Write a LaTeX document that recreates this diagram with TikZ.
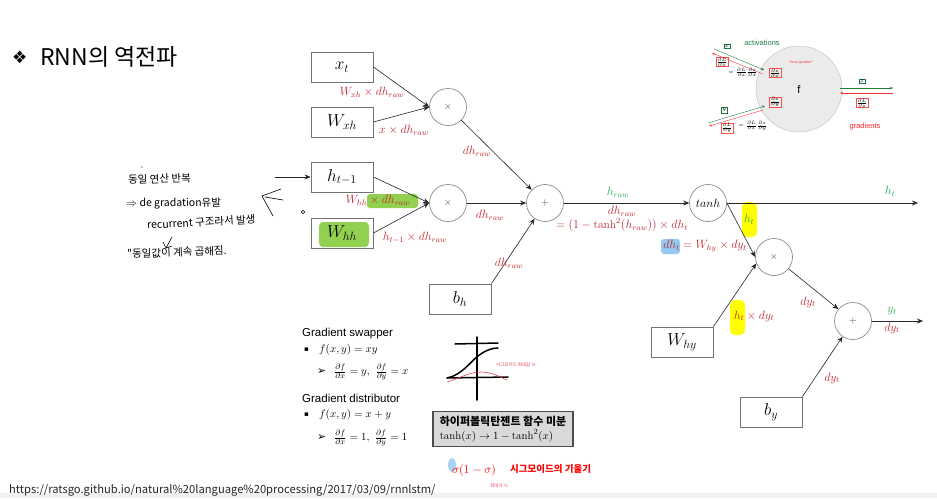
\documentclass[tikz,border=0pt]{standalone}
\usepackage{fontspec}
\usepackage{amsmath}
\usetikzlibrary{arrows.meta,calc}
\newfontfamily\kr{Noto Sans CJK KR}
\newfontfamily\dejavu{DejaVu Sans}
\newfontfamily\arial{Liberation Sans}
\definecolor{lred}{RGB}{192,40,50}
\definecolor{lgreen}{RGB}{40,170,90}
\definecolor{hlgreen}{RGB}{146,208,80}
\definecolor{hlyellow}{RGB}{255,255,0}
\definecolor{hlblue}{RGB}{150,200,240}
\definecolor{pinkred}{RGB}{235,60,80}
\begin{document}
\begin{tikzpicture}[x=1pt,y=-1pt,
 box/.style={draw=black!55, line width=0.9pt, minimum width=62pt, minimum height=30pt, inner sep=0pt, font=\fontsize{17}{20}\selectfont},
 op/.style={circle, draw=black!45, line width=0.7pt, minimum size=37pt, inner sep=0pt, font=\fontsize{10}{12}\selectfont, text=black!75},
 arr/.style={-{Stealth[length=6pt,width=5pt]}, line width=0.6pt, black!85},
 lbl/.style={text=lred, font=\fontsize{11.5}{13}\selectfont, inner sep=1pt},
 glbl/.style={text=lgreen, font=\fontsize{11.5}{13}\selectfont, inner sep=1pt},
 hand/.style={font=\kr\fontsize{10.5}{12}\selectfont, anchor=west, inner sep=0pt},
 pen/.style={line width=0.6pt, line cap=round, line join=round},
 sk/.style={line width=1.5pt, line cap=round},
 ga/.style={-{Stealth[length=3pt,width=2.5pt]}, lgreen!75!black, line width=0.4pt},
 ra/.style={-{Stealth[length=3pt,width=2.5pt]}, red!80, line width=0.4pt},
 fr/.style={draw=red!70, inner sep=0.6pt, line width=0.3pt, font=\fontsize{5}{6}\selectfont},
 gb/.style={draw=lgreen!70!black, inner sep=1pt, line width=0.3pt, font=\fontsize{6}{7}\selectfont},
 txt/.style={anchor=west, inner sep=0pt, font=\arial\fontsize{11.5}{13}\selectfont},
 mth/.style={anchor=west, inner sep=0pt, font=\fontsize{11}{13}\selectfont}
]
\useasboundingbox (0,0) rectangle (937,498);
\fill[white] (0,0) rectangle (937,498);
\fill[black!6] (0,493) rectangle (937,498);

% highlights
\fill[hlgreen, rounded corners=3pt] (367,194) rectangle (418,208);
\fill[hlgreen, rounded corners=4pt] (319,222) rectangle (369,247);
\fill[hlyellow, rounded corners=5pt] (742,202) rectangle (757,237);
\fill[hlyellow, rounded corners=5pt] (730,300) rectangle (745,335);
\fill[hlblue, rounded corners=3pt] (661,239) rectangle (680,254);
\fill[hlblue!80] (452,465) ellipse (4 and 7);

% title
\node[anchor=west, font=\dejavu\fontsize{17}{19}\selectfont, inner sep=0pt] (dia) at (12,57) {❖};
\node[anchor=west, font=\kr\fontsize{23}{26}\selectfont, inner sep=0pt] (title) at (40,57) {RNN의 역전파};

% graph nodes
\node[box] (xt) at (342,67) {$x_t$};
\node[box] (Wxh) at (342,122) {$W_{xh}$};
\node[box] (ht1) at (342,177) {$h_{t-1}$};
\node[box] (Whh) at (342,233) {$W_{hh}$};
\node[box] (bh) at (460,299) {$b_h$};
\node[box] (Why) at (682,342) {$W_{hy}$};
\node[box] (by) at (771,412) {$b_y$};
\node[op] (m1) at (448,107) {$\times$};
\node[op] (m2) at (448,203) {$\times$};
\node[op] (p1) at (545,203) {$+$};
\node[op, font=\fontsize{12}{14}\selectfont, text=black] (th) at (708,203) {$tanh$};
\node[op] (m3) at (774,257) {$\times$};
\node[op] (p2) at (853,321) {$+$};
\coordinate (in) at (275,177);
\coordinate (hout) at (918,203);
\coordinate (yout) at (923,321);

% edges
\draw[arr] (in) -- (ht1.west);
\draw[arr] (xt.east) -- (m1.west);
\draw[arr] (Wxh.east) -- (m1.west);
\draw[arr] (ht1.east) -- (m2.west);
\draw[arr] (Whh.east) -- (m2.west);
\draw[arr] (m1) -- (p1);
\draw[arr] (m2) -- (p1);
\draw[arr] (bh.north east) -- (p1);
\draw[arr] (p1) -- (th);
\draw[arr] (th) -- (hout);
\draw[arr] (th.east) -- (m3.west);
\draw[arr] (Why.north east) -- (m3.200);
\draw[arr] (m3) -- (p2);
\draw[arr] (by.north east) -- (p2);
\draw[arr] (p2) -- (yout);

% labels
\node[lbl] at (372,92) {$W_{xh}\times dh_{raw}$};
\node[lbl] at (404,130) {$x\times dh_{raw}$};
\node[lbl] at (477,151) {$dh_{raw}$};
\node[lbl] at (378,200) {$W_{hh}\times dh_{raw}$};
\node[lbl] at (415,238) {$h_{t-1}\times dh_{raw}$};
\node[lbl] at (490,215) {$dh_{raw}$};
\node[lbl] at (509,263) {$dh_{raw}$};
\node[glbl] at (618,192) {$h_{raw}$};
\node[lbl] at (622,211) {$dh_{raw}$};
\node[lbl] at (622,225) {$= (1-\tanh^2(h_{raw}))\times dh_t$};
\node[glbl] at (890,191) {$h_t$};
\node[glbl] at (749,219) {$h_t$};
\node[lbl] at (705,246) {$dh_t = W_{hy}\times dy_t$};
\node[lbl] at (754,316) {$h_t\times dy_t$};
\node[lbl] at (808,302) {$dy_t$};
\node[glbl] at (892,311) {$y_t$};
\node[lbl] at (892,328) {$dy_t$};
\node[lbl] at (832,378) {$dy_t$};

% inset
\node[circle, fill=black!8, draw=black!25, minimum size=86pt] (f) at (799,89) {};
\node[font=\arial\fontsize{11}{12}\selectfont] at (799,90) {f};
\node[text=red!80, font=\arial\fontsize{3.5}{4}\selectfont] at (801,63) {"local gradient"};
\node[text=lgreen!75!black, font=\arial\fontsize{7.5}{9}\selectfont] at (762,43) {activations};
\node[text=red!85, font=\arial\fontsize{7.5}{9}\selectfont] at (865,127) {gradients};
\node[gb] at (727,46) {$x$};
\node[gb] at (724,110) {$y$};
\node[gb] at (862,81) {$z$};
\draw[ga] (714,49) -- (764,70);
\draw[ra] (763,74) -- (712,53);
\draw[ga] (708,123) -- (765,106);
\draw[ra] (763,110) -- (709,126);
\draw[ga] (840,88) -- (893,88);
\draw[ra] (893,93) -- (840,93);
\node[fr] at (722,62) {$\frac{\partial L}{\partial x}$};
\node[font=\fontsize{5}{6}\selectfont] at (743,72) {$=\frac{\partial L}{\partial z}\frac{\partial z}{\partial x}$};
\node[fr] at (775,73) {$\frac{\partial z}{\partial x}$};
\node[fr] at (775,102) {$\frac{\partial z}{\partial y}$};
\node[fr] at (862,103) {$\frac{\partial L}{\partial z}$};
\node[fr] at (727,128) {$\frac{\partial L}{\partial y}$};
\node[font=\fontsize{5}{6}\selectfont] at (753,126) {$=\frac{\partial L}{\partial z}\frac{\partial z}{\partial y}$};

% handwritten notes
\node[hand, rotate=2] at (128,180) {동일 연산 반복};
\node[hand] at (126,203) {$\Rightarrow$ de gradation유발};
\node[hand, rotate=3] at (147,225) {recurrent 구조라서 발생};
\node[hand, rotate=2] at (127,254) {"동일값이 계속 곱해짐.};
\draw[pen] (172,237) -- (166,248) (163,242) -- (166,248) -- (172,246);
\draw[pen] (281,189) -- (262,196) -- (273,216);
\draw[pen] (265,197) -- (283,200);
\fill (142,167) circle (0.6);
\draw[line width=0.5pt] (303,212) circle (1.8);

% gradient rules
\node[txt] (gs) at (302,334) {Gradient swapper};
\node[anchor=west, inner sep=0pt, font=\dejavu\fontsize{7}{8}\selectfont] at (304,350) {▪};
\node[mth] at (319,350) {$f(x,y)=xy$};
\node[anchor=west, inner sep=0pt, font=\dejavu\fontsize{11}{12}\selectfont] at (317,372) {➢};
\node[mth] at (334,372) {$\frac{\partial f}{\partial x}=y,\ \frac{\partial f}{\partial y}=x$};
\node[txt] (gd) at (302,398) {Gradient distributor};
\node[anchor=west, inner sep=0pt, font=\dejavu\fontsize{7}{8}\selectfont] at (304,415) {▪};
\node[mth] at (319,415) {$f(x,y)=x+y$};
\node[anchor=west, inner sep=0pt, font=\dejavu\fontsize{11}{12}\selectfont] at (317,438) {➢};
\node[mth] at (334,438) {$\frac{\partial f}{\partial x}=1,\ \frac{\partial f}{\partial y}=1$};

% sketch
\draw[sk] (477,337) -- (477,400);
\draw[sk] (455,344) -- (498,343);
\draw[sk] (447,378) -- (508,377);
\draw[sk] (447,378) .. controls (462,375) and (470,362) .. (478,356) .. controls (486,350) and (492,348) .. (498,348);
\draw[pinkred, line width=0.6pt] (447,382) .. controls (460,378) and (470,372) .. (480,372) .. controls (492,372) and (500,377) .. (507,380);
\node[text=pinkred, font=\kr\fontsize{4.5}{5}\selectfont, anchor=west, inner sep=0pt] at (496,365) {시그모이드 최대값 ¼};

% tanh derivative box
\node[draw=black!70, line width=1.3pt, fill=black!15, minimum width=140pt, minimum height=35pt, align=left, inner sep=3pt, font=\fontsize{11}{14}\selectfont] (gbox) at (503,429) {{\kr\bfseries 하이퍼볼릭탄젠트 함수 미분}\\$\tanh(x)\rightarrow 1-\tanh^2(x)$};

% red handwritten
\node[text=red, font=\fontsize{13}{14}\selectfont, inner sep=0pt] (sig) at (474,470) {$\sigma(1-\sigma)$};
\node[text=red, font=\kr\bfseries\fontsize{9.5}{11}\selectfont, anchor=west, inner sep=0pt] at (510,469) {시그모이드의 기울기};
\node[text=pinkred, font=\kr\fontsize{4.5}{5}\selectfont, inner sep=0pt] at (499,486) {최대가 ¼};

% url
\node[anchor=west, inner sep=0pt, font=\kr\fontsize{11.2}{12}\selectfont, text=black!85] at (9,490) {https://ratsgo.github.io/natural\%20language\%20processing/2017/03/09/rnnlstm/};
\end{tikzpicture}
\end{document}
